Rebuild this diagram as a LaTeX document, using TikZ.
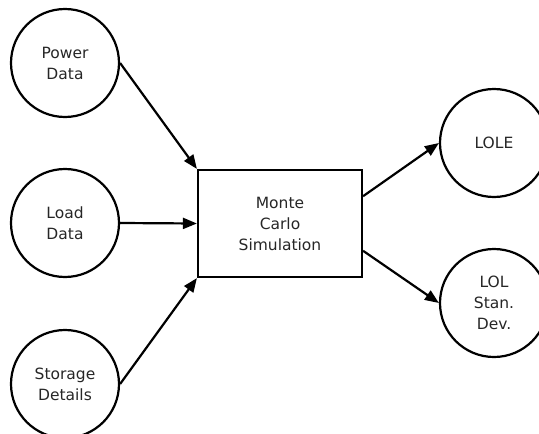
\documentclass[tikz,border=0pt]{standalone}
\usepackage{fontspec}
\setmainfont{DejaVu Sans}
\usetikzlibrary{arrows.meta,calc}
\begin{document}
\begin{tikzpicture}[x=1pt,y=-1pt,
  every node/.style={font=\fontsize{15.5}{21}\selectfont, text=black!85, align=center},
  datanode/.style={circle, draw=black, line width=2.2pt, minimum size=108pt, inner sep=0pt},
  procbox/.style={rectangle, draw=black, line width=2.2pt, minimum width=164pt, minimum height=107pt, inner sep=0pt},
  flow/.style={draw=black, line width=2.2pt, -{Triangle[length=14pt,width=11pt]}}]
\clip (0,0) rectangle (539,434);

% inputs
\node[datanode] (power)   at (65,63)  {Power\\Data};
\node[datanode] (load)    at (65,223) {Load\\Data};
\node[datanode] (storage) at (65,384) {Storage\\Details};

% simulation block
\node[procbox] (mc) at (280,223.5) {Monte\\Carlo\\Simulation};

% outputs
\node[datanode] (lole) at (494,143) {LOLE};
\node[datanode] (lol)  at (494,303) {LOL\\Stan.\\Dev.};

% exit points on the right side of the block
\coordinate (outA) at ($(mc.north east)!0.25!(mc.south east)$);
\coordinate (outB) at ($(mc.north east)!0.75!(mc.south east)$);

% connectors
\draw[flow] (power.east)   -- (mc.north west);
\draw[flow] (load.east)    -- (mc.west);
\draw[flow] (storage.east) -- (mc.south west);
\draw[flow] (outA) -- (lole.west);
\draw[flow] (outB) -- (lol.west);
\end{tikzpicture}
\end{document}
